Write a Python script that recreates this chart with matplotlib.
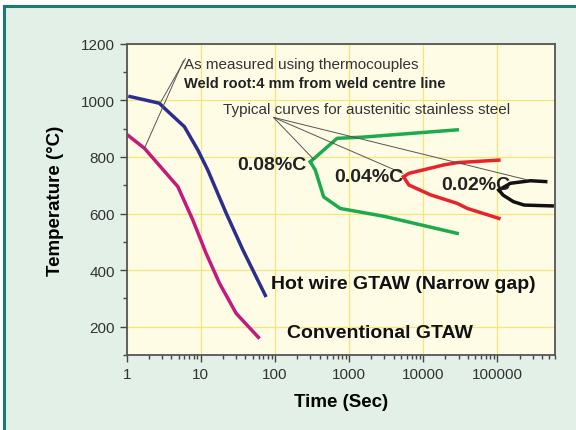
import matplotlib

matplotlib.use("Agg")
import matplotlib.pyplot as plt  # noqa: E402
from matplotlib.patches import Rectangle  # noqa: E402

plt.rcParams["font.family"] = ["Liberation Sans", "DejaVu Sans"]

# measured weld thermal cycles (time s, temperature C)
hot_t = [1.05, 2.76, 3.06, 6.0, 9.1, 12.4, 22, 37, 76]
hot_T = [1015, 990, 978, 907, 825, 754, 601, 471, 305]
conv_t = [1.0, 1.73, 4.9, 7.8, 11.8, 17.9, 30, 62]
conv_T = [880, 831, 695, 577, 459, 353, 247, 158]

# sensitisation C-curves, (upper branch, lower branch) from the nose
c08_up_t = [300, 690, 1500, 28800]
c08_up_T = [783, 866, 870, 896]
c08_lo_t = [300, 350, 454, 760, 3000, 28800]
c08_lo_T = [783, 754, 659, 618, 590, 530]
c04_up_t = [5440, 6400, 19000, 28800, 105000]
c04_up_T = [730, 742, 772, 780, 789]
c04_lo_t = [5440, 6400, 12600, 28800, 39500, 105000]
c04_lo_T = [730, 701, 666, 636, 618, 583]
c02_up_t = [105000, 150000, 280000, 450000]
c02_up_T = [683, 707, 716, 713]
c02_lo_t = [105000, 120000, 165000, 230000, 550000]
c02_lo_T = [683, 665, 642, 630, 627]

fig = plt.figure(figsize=(5.76, 4.31), dpi=100, facecolor="white")
fig.patches.append(Rectangle((4 / 576, -0.05), 1.1, 1 - 7 / 431 + 0.05,
                             transform=fig.transFigure, facecolor="#e3f0e8",
                             edgecolor="#1b7a72", lw=2.2, zorder=-10))
ax = fig.add_axes([0.22, 0.174, 0.7435, 0.722])
ax.set_zorder(5)
ax.set_facecolor("#fffce6")

lw = 2.5
ax.plot(hot_t, hot_T, c="#2b2e8e", lw=lw, solid_capstyle="butt")
ax.plot(conv_t, conv_T, c="#c4197d", lw=lw, solid_capstyle="butt")
ax.plot(c08_up_t, c08_up_T, c="#1bab4c", lw=lw)
ax.plot(c08_lo_t, c08_lo_T, c="#1bab4c", lw=lw)
ax.plot(c04_up_t, c04_up_T, c="#e8232b", lw=lw)
ax.plot(c04_lo_t, c04_lo_T, c="#e8232b", lw=lw)
ax.plot(c02_up_t, c02_up_T, c="#111111", lw=lw)
ax.plot(c02_lo_t, c02_lo_T, c="#111111", lw=lw)

ax.set_xscale("log")
ax.set_xlim(1, 6e5)
ax.set_ylim(100, 1200)
ax.set_xticks([1, 10, 100, 1000, 10000, 100000])
ax.set_xticklabels(["1", "10", "100", "1000", "10000", "100000"])
ax.set_yticks([200, 400, 600, 800, 1000, 1200])
ax.set_yticks(range(100, 1200, 100), minor=True)
ax.grid(which="major", c="#f2e67a", lw=0.9)
ax.set_axisbelow(True)
ax.tick_params(which="major", direction="out", length=5, width=1, colors="#444",
               labelsize=11, labelcolor="#333")
ax.tick_params(which="minor", direction="out", length=3, width=1, colors="#444")
for s in ax.spines.values():
    s.set_color("#555")
    s.set_linewidth(1.3)

ax.set_xlabel("Time (Sec)", fontsize=13.5, fontweight="bold", labelpad=9)
ax.set_ylabel("Temperature (\u00b0C)", fontsize=13.5, fontweight="bold", labelpad=12)

lk = dict(arrowstyle="-", color="#555", lw=0.7, shrinkA=0, shrinkB=0)
ax.annotate("", xy=(2.85, 992), xytext=(6.2, 1148), arrowprops=lk)
ax.annotate("", xy=(1.71, 827), xytext=(5.85, 1141), arrowprops=lk)
ax.text(5.95, 1130, "As measured using thermocouples", fontsize=11,
        color="#333", va="center")
ax.text(5.95, 1061, "Weld root:4 mm from weld centre line", fontsize=10.5,
        fontweight="bold", color="#222", va="center")

ax.text(20, 970, "Typical curves for austenitic stainless steel", fontsize=11,
        color="#333", va="center")
for xe, ye in [(335, 791), (5300, 742), (2.54e5, 719)]:
    ax.annotate("", xy=(xe, ye), xytext=(95.5, 940), arrowprops=lk)

ax.text(265, 772, "0.08%C", fontsize=14, fontweight="bold", ha="right",
        va="center", color="#222")
ax.text(631, 730, "0.04%C", fontsize=14, fontweight="bold", va="center",
        color="#222")
ax.text(17500, 701, "0.02%C", fontsize=14, fontweight="bold", va="center",
        color="#222")
ax.text(88, 354, "Hot wire GTAW (Narrow gap)", fontsize=14, fontweight="bold",
        va="center", color="#111")
ax.text(145, 179, "Conventional GTAW", fontsize=14, fontweight="bold",
        va="center", color="#111")

fig.savefig("out.png", dpi=100, facecolor=fig.get_facecolor())
